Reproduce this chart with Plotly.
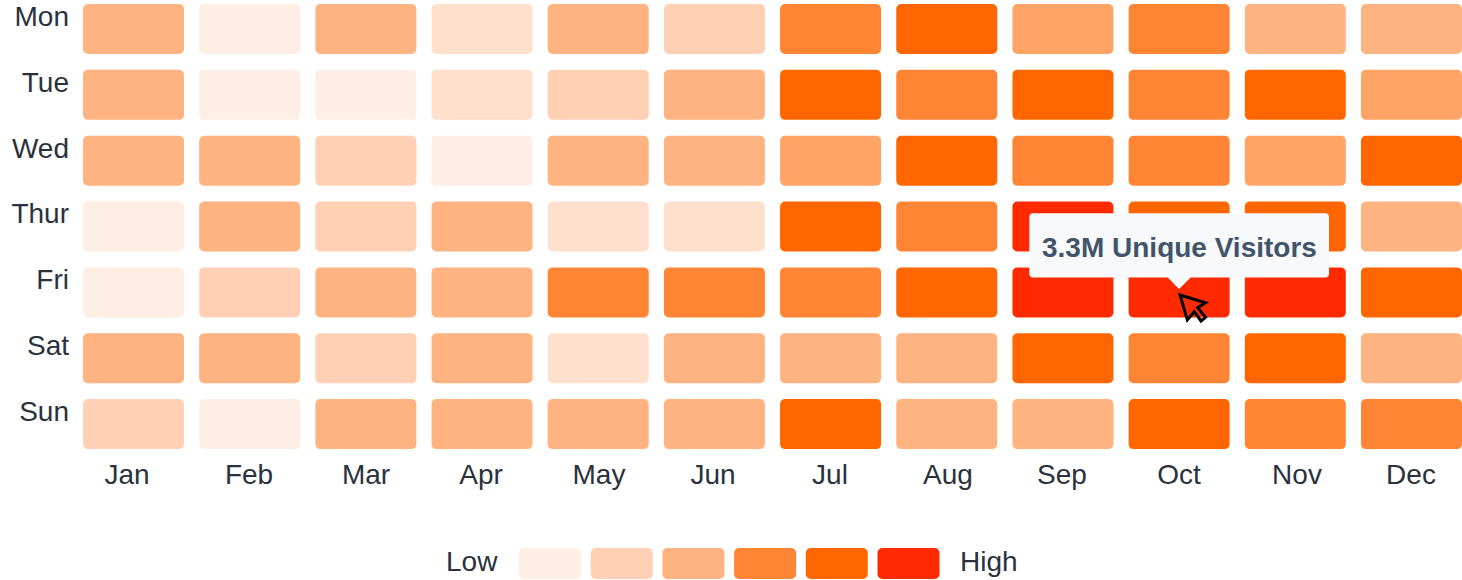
import plotly.graph_objects as go

months = ["Jan", "Feb", "Mar", "Apr", "May", "Jun", "Jul", "Aug", "Sep", "Oct", "Nov", "Dec"]
days = ["Mon", "Tue", "Wed", "Thur", "Fri", "Sat", "Sun"]

# colour level per cell (0 = lightest, 7 = strongest)
mon = [3, 0, 3, 1, 3, 2, 5, 6, 4, 5, 3, 3]
tue = [3, 0, 0, 1, 2, 3, 6, 5, 6, 5, 6, 4]
wed = [3, 3, 2, 0, 3, 3, 4, 6, 5, 5, 4, 6]
thu = [0, 3, 2, 3, 1, 1, 6, 5, 7, 6, 6, 3]
fri = [0, 2, 3, 3, 5, 5, 5, 6, 7, 7, 7, 6]
sat = [3, 3, 2, 3, 1, 3, 3, 3, 6, 5, 6, 3]
sun = [2, 0, 3, 3, 3, 3, 6, 3, 3, 6, 5, 5]
rows = [mon, tue, wed, thu, fri, sat, sun]

palette = ["#FFEEE3", "#FFE0CC", "#FFD0B3", "#FFB380", "#FFA366", "#FF8433", "#FF6600", "#FF2A00"]
legend_levels = [0, 2, 3, 5, 6, 7]
legend_colors = [palette[i] for i in legend_levels]
legend_labels = ["Low", "High"]
tooltip_text = "3.3M Unique Visitors"
tooltip_month, tooltip_day = "Oct", "Fri"

W, H = 1462, 580
TEXT = "#29323D"
FONT = "Liberation Sans, Arial, sans-serif"
SIZE = 28

# pixel geometry of the grid
X0, XSTEP = 133.5, 116.18
Y0, YSTEP = 29.0, 65.85
LEFT, BOTTOM = 70, 455
BAR_W = 101 / XSTEP
BAR_H = 50 / YSTEP

# centre of each month label on the page, in px
month_label_px = [127, 249, 366, 481, 599, 713, 830, 948, 1062, 1179, 1297, 1411]
day_label_lift = 13

fig = go.Figure()
for name, row_levels, r in zip(days, rows, range(len(days))):
    fig.add_trace(go.Bar(
        name=name,
        x=list(range(len(months))),
        y=[BAR_H] * len(months),
        base=[r - BAR_H / 2] * len(months),
        width=BAR_W,
        marker=dict(color=[palette[v] for v in row_levels], line_width=0, cornerradius=5),
        showlegend=False,
        hoverinfo="skip",
    ))

fig.add_trace(go.Bar(
    x=list(range(len(legend_colors))),
    y=[1] * len(legend_colors),
    base=[-0.5] * len(legend_colors),
    width=62 / 71.7,
    marker=dict(color=legend_colors, line_width=0, cornerradius=5),
    xaxis="x2", yaxis="y2",
    showlegend=False,
    hoverinfo="skip",
))

LX0, LSTEP = 550.0, 71.7
lx_left, lx_right = LX0 - LSTEP / 2, LX0 + 5.5 * LSTEP
LY_TOP, LY_BOTTOM = 548, 579

# tooltip and cursor are anchored to the hovered cell and drawn in px around it
col, row = months.index(tooltip_month), days.index(tooltip_day)
ax, ay = X0 + col * XSTEP, Y0 + row * YSTEP


def rel(points):
    return " L".join(f"{px - ax:.1f},{ay - py:.1f}" for px, py in points)


def rounded_tooltip(l, t, r, b, rad, tip_l, tip_r, tip_x, tip_y):
    return (
        f"M{l + rad - ax:.1f},{ay - t:.1f} L{r - rad - ax:.1f},{ay - t:.1f} "
        f"Q{r - ax:.1f},{ay - t:.1f} {r - ax:.1f},{ay - t - rad:.1f} "
        f"L{r - ax:.1f},{ay - b + rad:.1f} "
        f"Q{r - ax:.1f},{ay - b:.1f} {r - rad - ax:.1f},{ay - b:.1f} "
        f"L{tip_r - ax:.1f},{ay - b:.1f} L{tip_x - ax:.1f},{ay - tip_y:.1f} L{tip_l - ax:.1f},{ay - b:.1f} "
        f"L{l + rad - ax:.1f},{ay - b:.1f} "
        f"Q{l - ax:.1f},{ay - b:.1f} {l - ax:.1f},{ay - b + rad:.1f} "
        f"L{l - ax:.1f},{ay - t - rad:.1f} "
        f"Q{l - ax:.1f},{ay - t:.1f} {l + rad - ax:.1f},{ay - t:.1f} Z"
    )


cursor_pts = [(1180, 295), (1205.5, 302.7), (1197.7, 307.7), (1205.5, 317.3),
              (1201, 321), (1194.3, 311.7), (1187.3, 320)]

shapes = [
    dict(type="path", xref="x", yref="y", xsizemode="pixel", ysizemode="pixel",
         xanchor=col, yanchor=row,
         path=rounded_tooltip(1029.3, 213.3, 1329, 277.5, 4, 1167.7, 1190.7, 1179, 289),
         fillcolor="#F8F9FB", line_width=0, layer="above"),
    dict(type="path", xref="x", yref="y", xsizemode="pixel", ysizemode="pixel",
         xanchor=col, yanchor=row,
         path="M" + rel(cursor_pts) + " Z",
         fillcolor="rgba(0,0,0,0)", line=dict(color="#000000", width=3), layer="above"),
]

annotations = [
    dict(text=f"<b>{tooltip_text}</b>", xref="x", yref="y", x=col, y=row,
         xshift=1179.6 - ax, yshift=ay - 247, showarrow=False,
         font=dict(family=FONT, size=SIZE, color="#42546A")),
    dict(text=legend_labels[0], xref="paper", yref="paper", x=472 / W, y=(H - 561) / H,
         xanchor="center", yanchor="middle",
         showarrow=False, font=dict(family=FONT, size=SIZE, color=TEXT)),
    dict(text=legend_labels[1], xref="paper", yref="paper", x=988.5 / W, y=(H - 561) / H,
         xanchor="center", yanchor="middle",
         showarrow=False, font=dict(family=FONT, size=SIZE, color=TEXT)),
]

fig.update_layout(
    width=W, height=H,
    margin=dict(l=0, r=0, t=0, b=0, autoexpand=False),
    paper_bgcolor="white", plot_bgcolor="white",
    barmode="overlay",
    font=dict(family=FONT, size=SIZE, color=TEXT),
    shapes=shapes,
    annotations=annotations,
    xaxis=dict(
        domain=[LEFT / W, 1],
        range=[(LEFT - X0) / XSTEP, (W - X0) / XSTEP],
        tickmode="array",
        tickvals=[(p - X0) / XSTEP for p in month_label_px],
        ticktext=months,
        showgrid=False, zeroline=False, showline=False, ticks="",
        tickfont=dict(family=FONT, size=SIZE, color=TEXT),
        tickangle=0,
        automargin=False,
    ),
    yaxis=dict(
        domain=[(H - BOTTOM) / H, 1],
        range=[(BOTTOM - Y0) / YSTEP, (0 - Y0) / YSTEP],
        tickmode="array",
        tickvals=[i - day_label_lift / YSTEP for i in range(len(days))],
        ticktext=days,
        showgrid=False, zeroline=False, showline=False, ticks="",
        tickfont=dict(family=FONT, size=SIZE, color=TEXT),
        automargin=False,
    ),
    xaxis2=dict(
        domain=[lx_left / W, lx_right / W],
        range=[-0.5, 5.5], anchor="y2", visible=False,
    ),
    yaxis2=dict(
        domain=[(H - LY_BOTTOM) / H, (H - LY_TOP) / H],
        range=[0.5, -0.5], anchor="x2", visible=False,
    ),
)

fig.write_html("out.html", post_script="document.body.style.margin='0';", config={"displayModeBar": False})
